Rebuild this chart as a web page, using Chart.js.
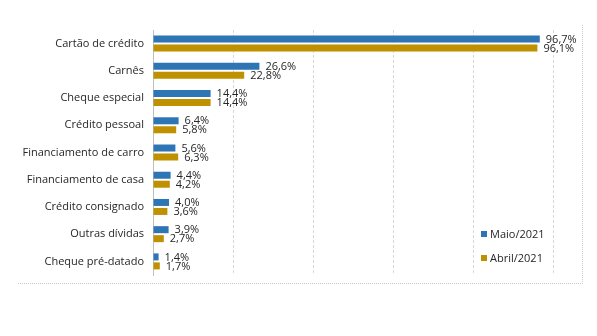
<!DOCTYPE html>
<html>
<head>
<meta charset="utf-8">
<script src="https://cdn.jsdelivr.net/npm/chart.js@4"></script>
<style>
  html, body { margin: 0; padding: 0; background: #fff; }
  #wrap { position: relative; width: 597px; height: 336px; }
</style>
</head>
<body>
<div id="wrap"><canvas id="graph" width="597" height="336"></canvas></div>
<script>
// categories and values
const categorias = ['Cartão de crédito', 'Carnês', 'Cheque especial', 'Crédito pessoal',
  'Financiamento de carro', 'Financiamento de casa', 'Crédito consignado',
  'Outras dívidas', 'Cheque pré-datado']
const maio2021 = [96.7, 26.6, 14.4, 6.4, 5.6, 4.4, 4.0, 3.9, 1.4]
const abril2021 = [96.1, 22.8, 14.4, 5.8, 6.3, 4.2, 3.6, 2.7, 1.7]
const seriesLabels = ['Maio/2021', 'Abril/2021']
const xTicks = [0, 20, 40, 60, 80, 100]

const FONT = '"Open Sans", "Liberation Sans", sans-serif'
const TXT = '#262626'

// value labels at the end of each bar, pt-BR decimal comma
const valueLabels = {
  id: 'valueLabels',
  afterDatasetsDraw(chart) {
    const ctx = chart.ctx
    ctx.save()
    ctx.font = '11px ' + FONT
    ctx.fillStyle = TXT
    ctx.textAlign = 'left'
    ctx.textBaseline = 'middle'
    chart.data.datasets.forEach((ds, i) => {
      chart.getDatasetMeta(i).data.forEach((bar, j) => {
        const txt = ds.data[j].toFixed(1).replace('.', ',') + '%'
        ctx.fillText(txt, bar.x + 6, bar.y + 0.5)
      })
    })
    ctx.restore()
  }
}

// frame + legend drawn like the original (right/bottom dotted border, legend inside)
const frameAndLegend = {
  id: 'frameAndLegend',
  afterDraw(chart) {
    const ctx = chart.ctx
    ctx.save()
    ctx.strokeStyle = '#C8C8C8'
    ctx.lineWidth = 1
    ctx.setLineDash([1, 1])
    ctx.beginPath()
    ctx.moveTo(18, 283.5)
    ctx.lineTo(582.5, 283.5)
    ctx.lineTo(582.5, 24)
    ctx.stroke()
    ctx.setLineDash([])

    ctx.font = '11px ' + FONT
    ctx.textBaseline = 'middle'
    ctx.textAlign = 'left'
    chart.data.datasets.forEach((ds, i) => {
      const y = 234 + i * 24
      ctx.fillStyle = ds.backgroundColor
      ctx.fillRect(481, y - 3, 6, 6)
      ctx.fillStyle = TXT
      ctx.fillText(ds.label, 490, y + 0.5)
    })
    ctx.restore()
  }
}

var ctx = document.getElementById('graph').getContext('2d')
var chart = new Chart(ctx, {
  type: 'bar',
  data: {
    labels: categorias,
    datasets: [{
      label: seriesLabels[0],
      backgroundColor: '#2E75B6',
      data: maio2021
    }, {
      label: seriesLabels[1],
      backgroundColor: '#BF9000',
      data: abril2021
    }]
  },
  options: {
    indexAxis: 'y',
    responsive: false,
    animation: false,
    categoryPercentage: 0.66,
    barPercentage: 0.78,
    layout: { padding: { left: 0, right: 44, top: 30, bottom: 61 } },
    plugins: {
      legend: { display: false },
      tooltip: { enabled: false }
    },
    scales: {
      x: {
        min: 0,
        max: 100,
        afterBuildTicks: (axis) => { axis.ticks = xTicks.map(v => ({ value: v })) },
        ticks: { display: false },
        border: { display: false, dash: [3, 2] },
        grid: { color: '#D9D9D9', drawTicks: false, tickLength: 0 },
        afterFit: (scale) => { scale.height = 0 }
      },
      y: {
        ticks: { color: TXT, font: { family: FONT, size: 11 }, padding: 9 },
        grid: { display: false, drawTicks: false },
        border: { color: '#BFBFBF' },
        afterFit: (scale) => { scale.width = 153 }
      }
    }
  },
  plugins: [valueLabels, frameAndLegend]
})
</script>
</body>
</html>
